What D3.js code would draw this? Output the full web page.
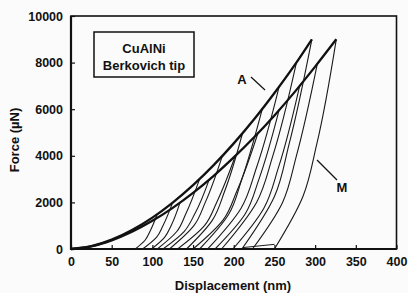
<!DOCTYPE html>
<html>
<head>
<meta charset="utf-8">
<script src="https://cdn.jsdelivr.net/npm/d3@7"></script>
<style>
  body { margin: 0; background: #fbfbfb; }
  svg { display: block; }
  text { font-family: "Liberation Sans", Arial, sans-serif; font-weight: bold; fill: #111; }
</style>
</head>
<body>
<svg width="408" height="293"></svg>
<script>
// Loading envelopes (depth nm, force uN)
const envA_h = [0, 25, 50, 75, 100, 125, 150, 175, 200, 225, 250, 275, 296];
const envA_F = [0, 119, 400, 815, 1347, 1992, 2740, 3587, 4533, 5568, 6697, 7903, 9000];
const envM_h = [0, 25, 50, 75, 100, 125, 150, 175, 200, 225, 250, 275, 300, 326];
const envM_F = [0, 114, 372, 741, 1208, 1767, 2408, 3131, 3930, 4796, 5734, 6744, 7826, 9000];

// Unloading cycles: peak force, peak depth, depth at 1/4 and 1/2 of peak force, residual depth
const peakF_A = [1500, 2000, 3000, 4000, 5000, 6000, 7000, 8000, 9000];
const peakH_A = [106, 125, 158, 186, 211, 235, 256, 277, 296];
const halfH_A = [97, 113, 141, 165, 189, 210, 228, 248, 268];
const q25H_A  = [91, 105, 130, 151, 174, 194, 209, 228, 250];
const resH_A  = [79, 88, 106, 121, 142, 158, 168, 185, 210];

const peakF_M = [2000, 3000, 4000, 5000, 6000, 7000, 8000, 9000];
const peakH_M = [134, 170, 202, 230, 256, 281, 303, 326];
const halfH_M = [123, 152, 179, 204, 231, 255, 277, 302];
const q25H_M  = [115, 139, 164, 187, 214, 237, 260, 285];
const resH_M  = [99, 113, 131, 150, 177, 199, 223, 250];

// small reload foot near the bottom
const tailH = [211, 250];
const tailF = [60, 200];

const xTicks = [0, 50, 100, 150, 200, 250, 300, 350, 400];
const yTicks = [0, 2000, 4000, 6000, 8000, 10000];

const svg = d3.select("svg");
const x = d3.scaleLinear().domain([0, 400]).range([71, 396.5]);
const y = d3.scaleLinear().domain([0, 10000]).range([249, 16]);

const line = d3.line().x(d => x(d[0])).y(d => y(d[1]));
const unloadLine = d3.line().x(d => x(d[0])).y(d => y(d[1])).curve(d3.curveMonotoneY);

// axes
svg.append("g")
  .attr("transform", "translate(0,249)")
  .call(d3.axisBottom(x).tickValues(xTicks).tickFormat(d3.format("d"))
    .tickSizeInner(-4).tickSizeOuter(0).tickPadding(8))
  .call(g => g.select(".domain").remove())
  .call(g => g.selectAll("line").attr("stroke", "#111").attr("stroke-width", 1.2))
  .call(g => g.selectAll("text").style("font-size", "12.5px").attr("fill", "#111"));

svg.append("g")
  .attr("transform", "translate(71,0)")
  .call(d3.axisLeft(y).tickValues(yTicks).tickFormat(d3.format("d"))
    .tickSizeInner(-4).tickSizeOuter(0).tickPadding(8))
  .call(g => g.select(".domain").remove())
  .call(g => g.selectAll("line").attr("stroke", "#111").attr("stroke-width", 1.2))
  .call(g => g.selectAll("text").style("font-size", "12.5px").attr("fill", "#111"));

// frame
svg.append("rect")
  .attr("x", x(0)).attr("y", y(10000))
  .attr("width", x(400) - x(0)).attr("height", y(0) - y(10000))
  .attr("fill", "none").attr("stroke", "#111").attr("stroke-width", 1.6);
svg.append("path")
  .attr("d", `M${x(0)},${y(10000)}V${y(0)}H${x(400)}`)
  .attr("fill", "none").attr("stroke", "#111").attr("stroke-width", 2.2);

// unloading curves
function drawUnloads(peakF, peakH, halfH, q25H, resH) {
  const data = peakF.map((F, i) => [
    [resH[i], 0], [q25H[i], F / 4], [halfH[i], F / 2], [peakH[i], F]
  ]);
  svg.append("g").selectAll("path").data(data).join("path")
    .attr("d", unloadLine)
    .attr("fill", "none").attr("stroke", "#1a1a1a").attr("stroke-width", 1.1);
}
drawUnloads(peakF_A, peakH_A, halfH_A, q25H_A, resH_A);
drawUnloads(peakF_M, peakH_M, halfH_M, q25H_M, resH_M);

svg.append("path")
  .attr("d", line(tailH.map((h, i) => [h, tailF[i]])))
  .attr("fill", "none").attr("stroke", "#1a1a1a").attr("stroke-width", 1);

// loading envelopes
[[envA_h, envA_F], [envM_h, envM_F]].forEach(([hs, Fs]) => {
  svg.append("path")
    .attr("d", line.curve(d3.curveMonotoneX)(hs.map((h, i) => [h, Fs[i]])))
    .attr("fill", "none").attr("stroke", "#111").attr("stroke-width", 2.3);
});

// legend box
svg.append("rect")
  .attr("x", 94).attr("y", 32).attr("width", 100).attr("height", 45)
  .attr("fill", "none").attr("stroke", "#111").attr("stroke-width", 1.5);
svg.append("text").attr("x", 144).attr("y", 53).attr("text-anchor", "middle")
  .style("font-size", "13px").text("CuAlNi");
svg.append("text").attr("x", 144).attr("y", 70).attr("text-anchor", "middle")
  .style("font-size", "13px").text("Berkovich tip");

// annotations
svg.append("text").attr("x", 242).attr("y", 84).attr("text-anchor", "middle")
  .style("font-size", "13px").text("A");
svg.append("line").attr("x1", 251).attr("y1", 77).attr("x2", 265).attr("y2", 90)
  .attr("stroke", "#111").attr("stroke-width", 1.2);
svg.append("text").attr("x", 342).attr("y", 192).attr("text-anchor", "middle")
  .style("font-size", "13px").text("M");
svg.append("line").attr("x1", 317).attr("y1", 160).attr("x2", 337).attr("y2", 180)
  .attr("stroke", "#111").attr("stroke-width", 1.2);

// axis titles
svg.append("text").attr("x", 233).attr("y", 290).attr("text-anchor", "middle")
  .style("font-size", "13px").text("Displacement (nm)");
svg.append("text").attr("transform", "translate(19,140) rotate(-90)").attr("text-anchor", "middle")
  .style("font-size", "13px").text("Force (µN)");
</script>
</body>
</html>
